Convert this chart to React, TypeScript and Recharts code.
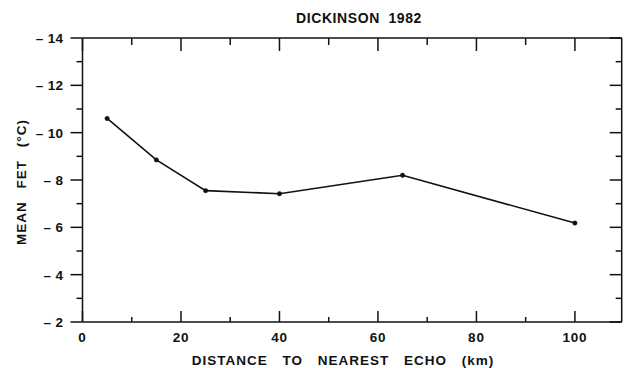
import { LineChart, Line, XAxis, YAxis } from "recharts";

// values
const distanceKm = [5, 15, 25, 40, 65, 100];
const meanFet = [-10.6, -8.85, -7.55, -7.42, -8.2, -6.18];

const xTicks = [0, 10, 20, 30, 40, 50, 60, 70, 80, 90, 100];
const yTicks = [-14, -13, -12, -11, -10, -9, -8, -7, -6, -5, -4, -3, -2];

const data = distanceKm.map((d, i) => ({ distance: d, fet: meanFet[i] }));

const FONT = "'Liberation Sans', Arial, Helvetica, sans-serif";
const INK = "#111";

const isMajorX = (v: number) => v % 20 === 0;
const isMajorY = (v: number) => v % 2 === 0;

function BottomTick(props: any) {
  const { x, y, payload } = props;
  const v = payload.value;
  const len = isMajorX(v) ? 11 : 5;
  return (
    <g>
      <line x1={x} x2={x} y1={y} y2={y - len} stroke={INK} strokeWidth={1.5} />
      {isMajorX(v) && (
        <text x={x} y={y + 20} textAnchor="middle" fontFamily={FONT} fontWeight={700} fontSize={13.5} letterSpacing={0.8} fill={INK}>
          {v}
        </text>
      )}
    </g>
  );
}

function TopTick(props: any) {
  const { x, y, payload } = props;
  const len = isMajorX(payload.value) ? 13 : 7;
  return <line x1={x} x2={x} y1={y} y2={y + len} stroke={INK} strokeWidth={1.5} />;
}

function LeftTick(props: any) {
  const { x, y, payload } = props;
  const v = payload.value;
  const len = isMajorY(v) ? 12 : 6;
  return (
    <g>
      <line x1={x} x2={x - len} y1={y} y2={y} stroke={INK} strokeWidth={1.5} />
      {isMajorY(v) && (
        <text x={x - 19} y={y + 5} textAnchor="end" fontFamily={FONT} fontWeight={700} fontSize={13.5} letterSpacing={0.4} fill={INK}>
          {"\u2013 " + Math.abs(v)}
        </text>
      )}
    </g>
  );
}

function RightTick(props: any) {
  const { x, y, payload } = props;
  const len = isMajorY(payload.value) ? 12 : 6;
  return <line x1={x} x2={x - len} y1={y} y2={y} stroke={INK} strokeWidth={1.5} />;
}

const titleLabel = () => (
  <text x={359} y={23} textAnchor="middle" fontFamily={FONT} fontWeight={700} fontSize={14} letterSpacing={0.6} style={{ wordSpacing: 4 }} fill={INK}>
    DICKINSON 1982
  </text>
);

const xLabel = () => (
  <text x={343} y={365} textAnchor="middle" fontFamily={FONT} fontWeight={700} fontSize={13.5} letterSpacing={1} style={{ wordSpacing: 10 }} fill={INK}>
    DISTANCE TO NEAREST ECHO (km)
  </text>
);

const yLabel = () => (
  <text x={26} y={182} transform="rotate(-90 26 182)" textAnchor="middle" fontFamily={FONT} fontWeight={700} fontSize={13.5} letterSpacing={1} style={{ wordSpacing: 8 }} fill={INK}>
    MEAN FET (°C)
  </text>
);

const axisLine = { stroke: INK, strokeWidth: 1.5 };

export default function App() {
  return (
    <div style={{ position: "absolute", left: 0, top: 0, background: "#fff" }}>
      <LineChart width={624} height={368} data={data} margin={{ top: 38, right: 2.3, bottom: 0, left: 0 }}>
        <XAxis
          xAxisId="b"
          dataKey="distance"
          type="number"
          domain={[0, 109.5]}
          ticks={xTicks}
          interval={0}
          height={46}
          tickSize={0}
          tickMargin={0}
          tickLine={false}
          axisLine={axisLine}
          tick={<BottomTick />}
          label={{ content: xLabel }}
        />
        <XAxis
          xAxisId="t"
          dataKey="distance"
          orientation="top"
          type="number"
          domain={[0, 109.5]}
          ticks={xTicks}
          interval={0}
          height={1}
          mirror
          tickSize={0}
          tickMargin={0}
          tickLine={false}
          axisLine={axisLine}
          tick={<TopTick />}
          label={{ content: titleLabel }}
        />
        <YAxis
          yAxisId="l"
          type="number"
          domain={[-14, -2]}
          reversed
          ticks={yTicks}
          interval={0}
          width={82.5}
          tickSize={0}
          tickMargin={0}
          tickLine={false}
          axisLine={axisLine}
          tick={<LeftTick />}
          label={{ content: yLabel }}
        />
        <YAxis
          yAxisId="r"
          orientation="right"
          type="number"
          domain={[-14, -2]}
          reversed
          ticks={yTicks}
          interval={0}
          width={1}
          mirror
          tickSize={0}
          tickMargin={0}
          tickLine={false}
          axisLine={axisLine}
          tick={<RightTick />}
        />
        {/* invisible copy so the top/right frame axes get a scale */}
        <Line
          xAxisId="t"
          yAxisId="r"
          type="linear"
          dataKey="fet"
          stroke="none"
          dot={false}
          activeDot={false}
          legendType="none"
          isAnimationActive={false}
        />
        <Line
          xAxisId="b"
          yAxisId="l"
          type="linear"
          dataKey="fet"
          stroke={INK}
          strokeWidth={1.6}
          dot={{ r: 2.2, fill: INK, stroke: INK, strokeWidth: 0.5 }}
          isAnimationActive={false}
        />
      </LineChart>
    </div>
  );
}
